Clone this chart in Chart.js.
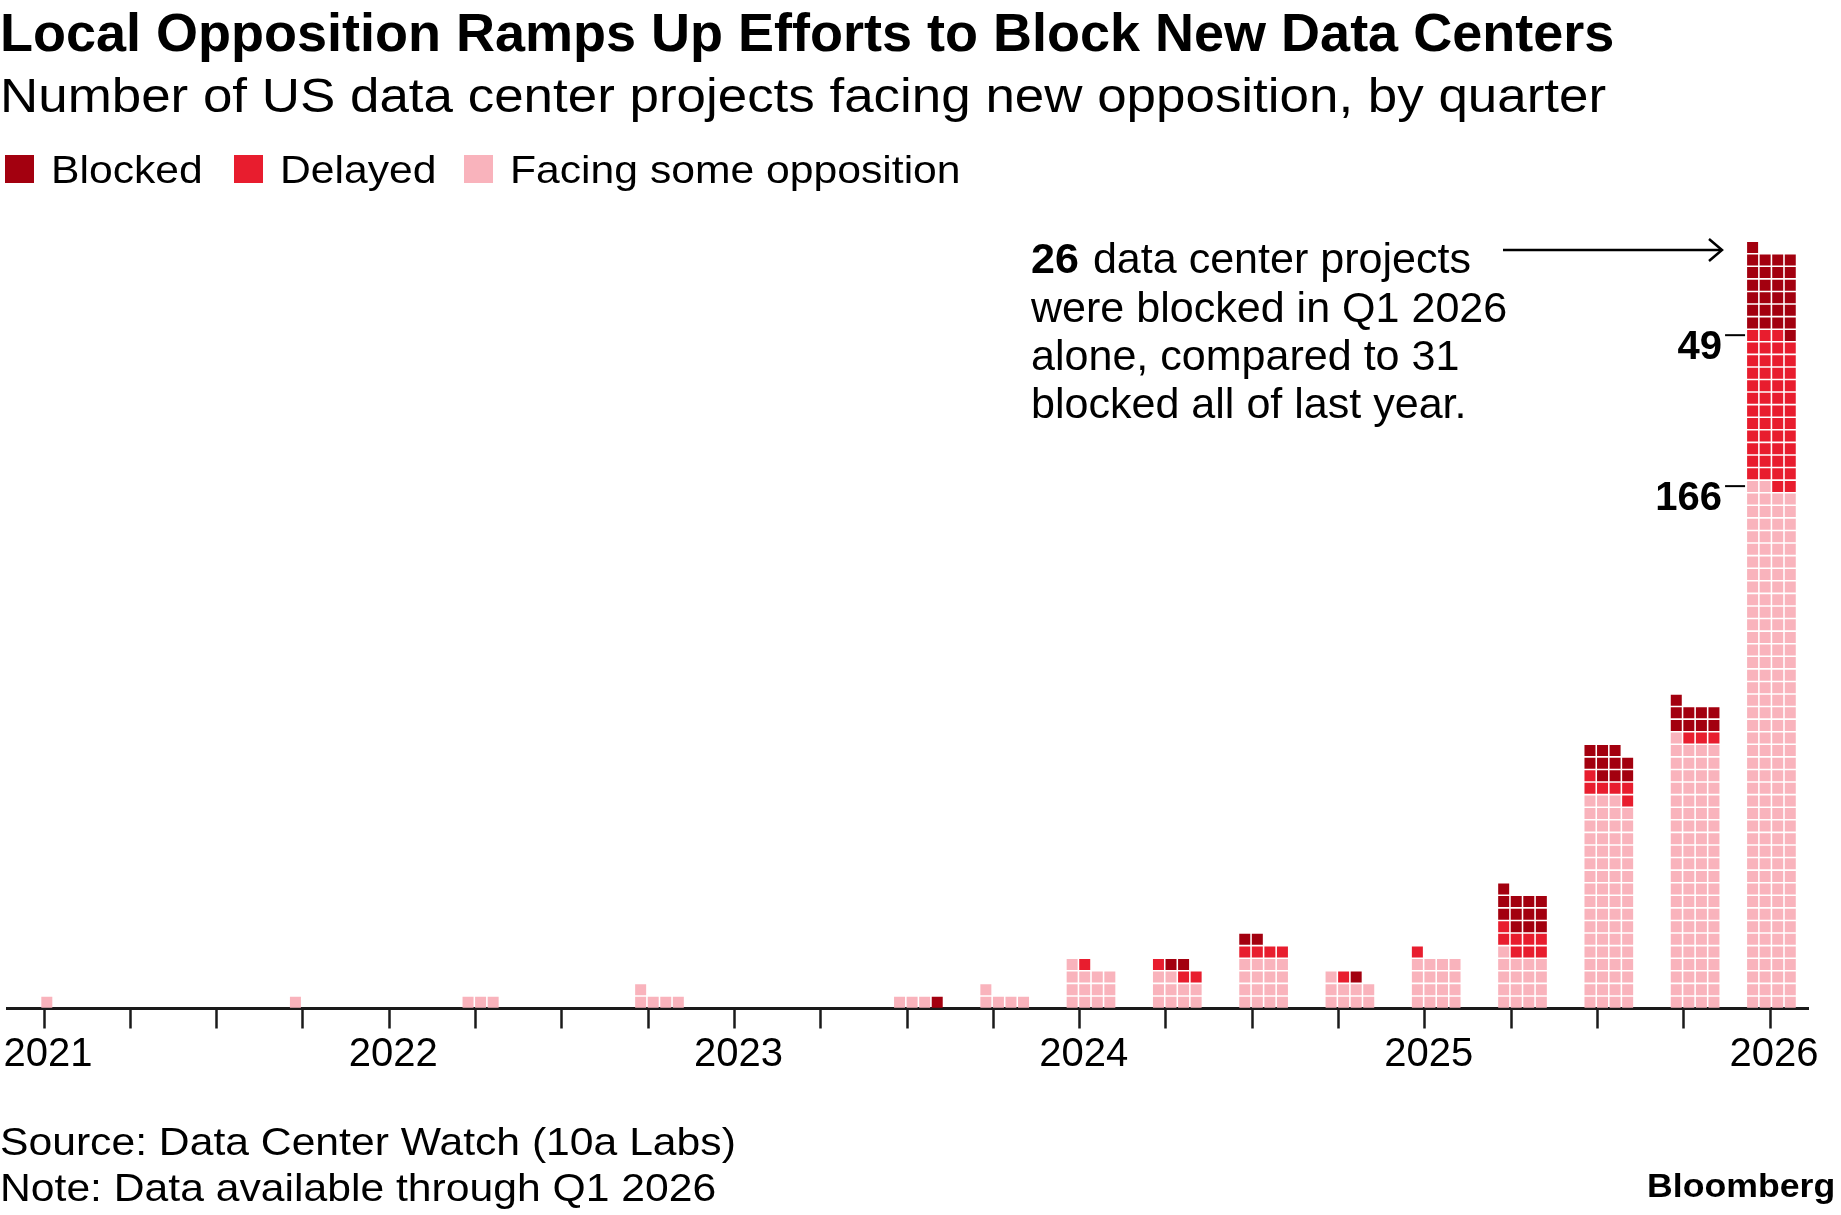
<!DOCTYPE html>
<html>
<head>
<meta charset="utf-8">
<script src="https://cdn.jsdelivr.net/npm/chart.js@4.4.1/dist/chart.umd.min.js"></script>
<style>
  body { margin: 0; background: #fff; font-family: 'Liberation Sans', Arial, sans-serif; color: #000; }
  #wrap { position: relative; width: 1841px; height: 1215px; overflow: hidden; }
  #chart { position: absolute; left: 0; top: 0; }
  .t { position: absolute; white-space: nowrap; line-height: 1; transform-origin: 0 50%; }
  .wide { transform: scaleX(1.08); }
  .title { left: 0; top: 5px; font-size: 54px; font-weight: bold; }
  .sub { left: 0; top: 71px; font-size: 49px; }
  .lg { top: 150px; font-size: 39.5px; }
  .sw { position: absolute; top: 155px; width: 29px; height: 28.3px; }
  .src { left: 0; top: 1121.6px; font-size: 39.5px; }
  .note { left: 0; top: 1168.3px; font-size: 39.5px; }
  .brand { right: 6px; top: 1168.8px; font-size: 33px; font-weight: bold; transform-origin: 100% 50%; transform: scaleX(1.08); }
</style>
</head>
<body>
<div id="wrap">
  <canvas id="chart" width="1841" height="1215"></canvas>
  <div class="t title">Local Opposition Ramps Up Efforts to Block New Data Centers</div>
  <div class="t sub wide">Number of US data center projects facing new opposition, by quarter</div>
  <div id="legend"></div>
  <div class="t src wide">Source: Data Center Watch (10a Labs)</div>
  <div class="t note wide">Note: Data available through Q1 2026</div>
  <div class="t brand">Bloomberg</div>
</div>
<script>
// quarters Q1 2021 .. Q1 2026, one square per project
var quarters = ['Q1 2021', 'Q2 2021', 'Q3 2021', 'Q4 2021',
    'Q1 2022', 'Q2 2022', 'Q3 2022', 'Q4 2022',
    'Q1 2023', 'Q2 2023', 'Q3 2023', 'Q4 2023',
    'Q1 2024', 'Q2 2024', 'Q3 2024', 'Q4 2024',
    'Q1 2025', 'Q2 2025', 'Q3 2025', 'Q4 2025',
    'Q1 2026'];
var blocked = [0, 0, 0, 0, 0, 0, 0, 0, 0, 0, 1, 0, 0, 2, 2, 1, 0, 12, 10, 9, 26];
var delayed = [0, 0, 0, 0, 0, 0, 0, 0, 0, 0, 0, 0, 1, 3, 4, 1, 1, 8, 6, 3, 49];
var facing = [1, 0, 0, 1, 0, 3, 0, 5, 0, 0, 3, 5, 13, 10, 16, 9, 16, 17, 67, 85, 166];
var yearLabels = ['2021', '2022', '2023', '2024', '2025', '2026'];

var seriesNames = ['Blocked', 'Delayed', 'Facing some opposition'];
var seriesColors = ['#a3000f', '#e81d2e', '#f9b3bc'];

// geometry (px)
var QPX = 86.45;        // one quarter on the x axis
var PITCH = 12.58;      // one square + gap
var SIDE = 11;          // square side
var PER_ROW = 4;
var last = quarters.length - 1;

function colLeft(i) {
    // left edge of a column relative to its quarter tick
    if (i === 0) return -2.7;
    if (i === last) return -23;
    return -13;
}

function waffle_points() {
    var pts = [[], [], []];   // blocked, delayed, facing
    for (let i = 0; i < quarters.length; i++) {
        var k = 0;
        var order = [[2, facing[i]], [1, delayed[i]], [0, blocked[i]]];
        order.forEach(function (o) {
            for (let j = 0; j < o[1]; j++) {
                var col = k % PER_ROW;
                var row = Math.floor(k / PER_ROW);
                pts[o[0]].push({
                    x: i + (colLeft(i) + SIDE / 2 + col * PITCH) / QPX,
                    y: row + 0.5
                });
                k++;
            }
        });
    }
    return pts;
}

var pts = waffle_points();

// legend
var legendX = [5, 234.3, 464.3];
var legendDiv = document.getElementById('legend');
seriesNames.forEach(function (name, i) {
    legendDiv.innerHTML += '<div class="sw" style="left:' + legendX[i] + 'px;background:' + seriesColors[i] + '"></div>' +
        '<div class="t lg wide" style="left:' + (legendX[i] + 45.5) + 'px">' + name + '</div>';
});

// chart area in canvas px
var AREA_LEFT = 4.7, AREA_RIGHT = 1808, AREA_TOP = 200, AREA_BOTTOM = 1008.5;
var TICK0 = 41;   // px of Q1 2021 tick
var X_AXIS_H = 60;

var annotationPlugin = {
    id: 'annotations',
    afterDraw: function (chart) {
        var ctx = chart.ctx;
        var y = chart.scales.y;
        var x = chart.scales.x;
        ctx.save();
        ctx.fillStyle = '#000';
        ctx.strokeStyle = '#000';

        // note text (slightly widened, like the original face)
        var blocked2025 = blocked[16] + blocked[17] + blocked[18] + blocked[19];
        var lines = [
            [String(blocked[last]), ' data center projects'],
            ['', 'were blocked in Q1 2026'],
            ['', 'alone, compared to ' + blocked2025],
            ['', 'blocked all of last year.']
        ];
        var tx = 1031, ty = 273.3;
        ctx.save();
        ctx.translate(tx, 0);
        ctx.scale(1.025, 1);
        lines.forEach(function (l, n) {
            var cx = 0;
            if (l[0]) {
                ctx.font = 'bold 42px "Liberation Sans", Arial, sans-serif';
                ctx.fillText(l[0], cx, ty + n * 48.3);
                cx += ctx.measureText(l[0]).width + 2;
            }
            ctx.font = '42px "Liberation Sans", Arial, sans-serif';
            ctx.fillText(l[1], cx, ty + n * 48.3);
        });
        ctx.restore();

        // arrow
        ctx.lineWidth = 2.5;
        ctx.beginPath();
        ctx.moveTo(1503, 250);
        ctx.lineTo(1721, 250);
        ctx.stroke();
        ctx.beginPath();
        ctx.moveTo(1709, 239);
        ctx.lineTo(1722, 250);
        ctx.lineTo(1709, 261);
        ctx.stroke();

        // segment labels on last column
        var left = x.getPixelForValue(last) + colLeft(last);
        var marks = [
            [facing[last], Math.ceil(facing[last] / PER_ROW)],
            [delayed[last], Math.ceil((facing[last] + delayed[last]) / PER_ROW)]
        ];
        ctx.font = 'bold 40px "Liberation Sans", Arial, sans-serif';
        ctx.textAlign = 'right';
        ctx.lineWidth = 2;
        marks.forEach(function (m) {
            var dy = y.getPixelForValue(m[1]) + 6;
            ctx.beginPath();
            ctx.moveTo(left - 22, dy);
            ctx.lineTo(left - 2, dy);
            ctx.stroke();
            ctx.fillText(String(m[0]), left - 25, dy + 23.5);
        });
        ctx.restore();
    }
};

var ctx = document.getElementById('chart').getContext('2d');
new Chart(ctx, {
    type: 'scatter',
    data: {
        datasets: [0, 1, 2].map(function (s) {
            return {
                label: seriesNames[s],
                data: pts[s],
                backgroundColor: seriesColors[s],
                borderWidth: 0,
                pointStyle: 'rect',
                pointRadius: SIDE / Math.SQRT2,
                pointBorderWidth: 0
            };
        })
    },
    options: {
        responsive: false,
        animation: false,
        devicePixelRatio: 1,
        events: [],
        layout: {
            padding: {
                left: AREA_LEFT,
                right: 1841 - AREA_RIGHT,
                top: AREA_TOP,
                bottom: 1215 - AREA_BOTTOM - X_AXIS_H
            }
        },
        plugins: {
            legend: { display: false },
            tooltip: { enabled: false }
        },
        scales: {
            x: {
                type: 'linear',
                min: (AREA_LEFT - TICK0) / QPX,
                max: (AREA_RIGHT - TICK0) / QPX,
                afterBuildTicks: function (scale) {
                    scale.ticks = quarters.map(function (q, i) { return { value: i }; });
                },
                afterFit: function (scale) {
                    scale.height = X_AXIS_H;
                    scale.paddingLeft = 0;
                    scale.paddingRight = 0;
                },
                border: { display: true, color: '#1a1a1a', width: 3 },
                grid: {
                    display: true,
                    drawOnChartArea: false,
                    drawTicks: true,
                    tickLength: 20,
                    tickWidth: 2.5,
                    tickColor: '#1a1a1a'
                },
                ticks: {
                    autoSkip: false,
                    maxRotation: 0,
                    padding: 2,
                    labelOffset: 4,
                    color: '#000',
                    font: { family: '"Liberation Sans", Arial, sans-serif', size: 40 },
                    callback: function (value) {
                        return value % 4 === 0 ? yearLabels[value / 4] : '';
                    }
                }
            },
            y: {
                display: false,
                min: 0,
                max: (AREA_BOTTOM - AREA_TOP) / PITCH
            }
        }
    },
    plugins: [annotationPlugin]
});
</script>
</body>
</html>
